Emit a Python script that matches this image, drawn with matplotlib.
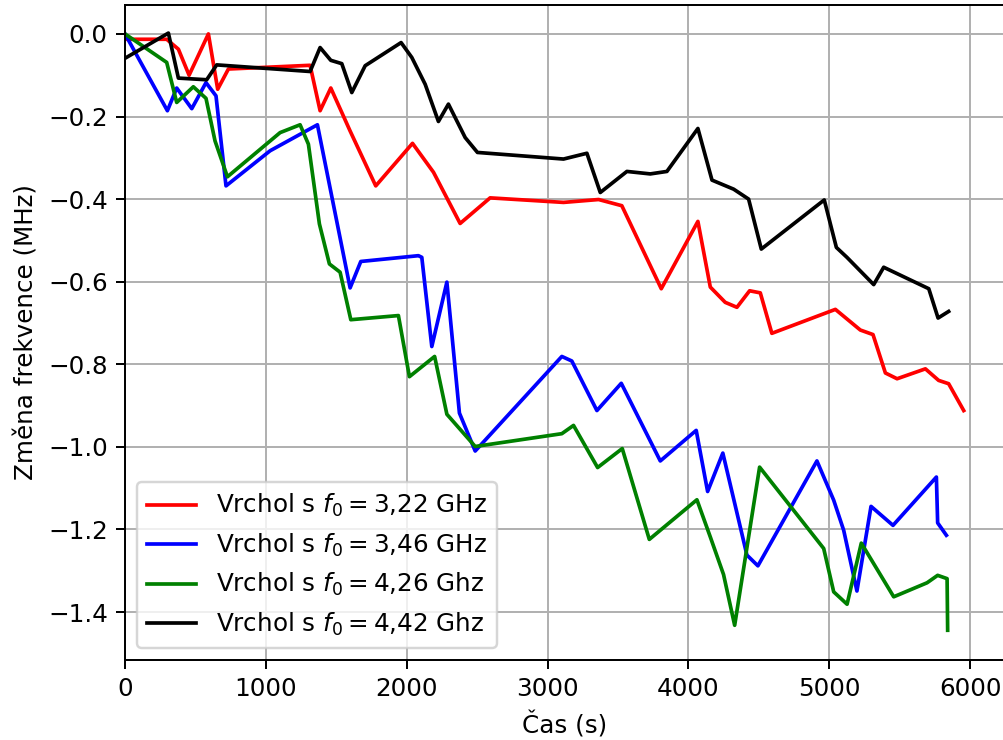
import matplotlib
import matplotlib.pyplot as plt

matplotlib.use('Agg')

# frequency shift of the four resonance peaks over time
t_322 = [0, 296, 379, 455, 592, 658, 734, 1314, 1385, 1461, 1598, 1780, 2041, 2190, 2379, 2592,
         3113, 3362, 3527, 3807, 4067, 4155, 4261, 4344, 4434, 4510, 4592, 5043, 5220, 5310, 5398,
         5481, 5682, 5776, 5847, 5954]
df_322 = [-0.013, -0.013, -0.037, -0.100, 0.0, -0.134, -0.085, -0.076, -0.186, -0.131, -0.235,
          -0.368, -0.265, -0.335, -0.459, -0.397, -0.408, -0.401, -0.416, -0.617, -0.454, -0.613,
          -0.650, -0.662, -0.622, -0.627, -0.725, -0.667, -0.717, -0.728, -0.821, -0.835, -0.811,
          -0.839, -0.847, -0.912]

t_346 = [0, 301, 367, 474, 575, 646, 717, 1030, 1366, 1598, 1674, 2083, 2107, 2178, 2285, 2374,
         2486, 3101, 3172, 3350, 3523, 3800, 4055, 4136, 4244, 4415, 4493, 4912, 5031, 5102, 5196,
         5296, 5452, 5760, 5769, 5831]
df_346 = [0.0, -0.186, -0.131, -0.181, -0.118, -0.150, -0.368, -0.283, -0.220, -0.615, -0.551,
          -0.537, -0.541, -0.757, -0.601, -0.918, -1.010, -0.781, -0.792, -0.912, -0.846, -1.034,
          -0.960, -1.108, -1.015, -1.262, -1.288, -1.034, -1.129, -1.202, -1.349, -1.144, -1.190,
          -1.073, -1.184, -1.214]

t_426 = [0, 296, 367, 485, 575, 639, 727, 1101, 1243, 1302, 1380, 1451, 1527, 1603, 1941, 2019,
         2198, 2285, 2486, 3101, 3184, 3355, 3530, 3722, 4060, 4155, 4249, 4328, 4505, 4960, 5031,
         5126, 5227, 5457, 5694, 5769, 5836, 5840]
df_426 = [0.0, -0.069, -0.166, -0.128, -0.156, -0.259, -0.346, -0.239, -0.220, -0.267, -0.460,
          -0.557, -0.577, -0.692, -0.682, -0.830, -0.781, -0.921, -0.999, -0.968, -0.948, -1.050,
          -1.004, -1.224, -1.128, -1.218, -1.309, -1.432, -1.049, -1.246, -1.351, -1.381, -1.233,
          -1.363, -1.329, -1.311, -1.319, -1.444]

t_442 = [0, 308, 379, 580, 651, 1314, 1385, 1461, 1539, 1610, 1705, 1960, 2036, 2131, 2225, 2296,
         2415, 2502, 3113, 3279, 3374, 3563, 3729, 3847, 4067, 4167, 4321, 4427, 4517, 4964, 5050,
         5125, 5315, 5386, 5706, 5772, 5847]
df_442 = [-0.059, 0.002, -0.107, -0.111, -0.075, -0.091, -0.033, -0.064, -0.072, -0.142, -0.077,
          -0.021, -0.057, -0.122, -0.212, -0.170, -0.251, -0.287, -0.303, -0.289, -0.384, -0.333,
          -0.339, -0.333, -0.229, -0.354, -0.376, -0.400, -0.521, -0.402, -0.517, -0.541, -0.607,
          -0.565, -0.617, -0.688, -0.672]

dpi = 177
f = plt.figure(figsize=(1003 / dpi, 740 / dpi), dpi=dpi)
ax = f.add_axes([125 / 1003, 80 / 740, 879 / 1003, 655 / 740])

ax.plot(t_322, df_322, c='red', label=r'Vrchol s $f_0 = 3{,}22$ GHz')
ax.plot(t_346, df_346, c='blue', label=r'Vrchol s $f_0 = 3{,}46$ GHz')
ax.plot(t_426, df_426, c='green', label=r'Vrchol s $f_0 = 4{,}26$ Ghz')
ax.plot(t_442, df_442, c='black', label=r'Vrchol s $f_0 = 4{,}42$ Ghz')

ax.set_xlim(0, 6240)
ax.set_ylim(-1.516, 0.07)
ax.set_xlabel('Čas (s)')
ax.set_ylabel('Změna frekvence (MHz)')
ax.grid()
ax.legend(loc='lower left')

f.savefig('out.png', dpi=dpi)
